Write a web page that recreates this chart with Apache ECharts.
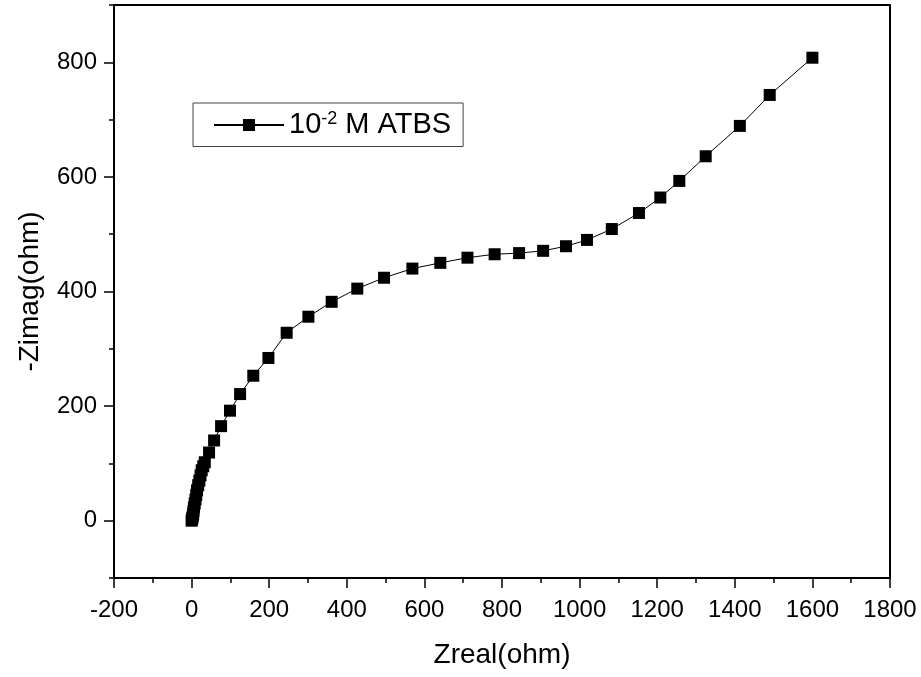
<!DOCTYPE html>
<html>
<head>
<meta charset="utf-8">
<script src="https://cdn.jsdelivr.net/npm/echarts@6/dist/echarts.min.js"></script>
<style>html,body{margin:0;padding:0;background:#fff}#c{width:921px;height:677px}</style>
</head>
<body>
<div id="c"></div>
<script>
var zreal = [0,1,2,3,4,5,6,8,10,12,14,17,20,23,26,30,34,45,58,76,99,125,159,198,245,301,361,427,496,569,641,711,781,844,906,965,1019,1083,1153,1208,1257,1325,1413,1490,1600];
var zimag = [0,2,5,8,12,17,23,30,37,45,53,62,70,79,88,95,102,119,140,165,192,221,253,284,328,356,382,405,424,440,450,459,465,467,471,479,490,509,537,564,593,636,689,743,808];
var seriesName = '10-2 M ATBS';
var xRange = {min: -200, max: 1800, interval: 200};
var yRange = {min: -100, max: 900, interval: 100};
var yMajorTicks = [0, 200, 400, 600, 800];
var yMinorTicks = [-100, 100, 300, 500, 700, 900];

var pts = zreal.map(function (x, i) { return [x, zimag[i]]; });
var font = 'Liberation Sans, Arial, sans-serif';
var chart = echarts.init(document.getElementById('c'));
chart.setOption({
  backgroundColor: '#fff',
  animation: false,
  grid: {left: 114, right: 31, top: 5, bottom: 99},
  legend: {
    show: true,
    left: 193, top: 103,
    padding: [7, 12, 7, 20],
    borderColor: '#444', borderWidth: 1,
    itemWidth: 70, itemHeight: 15, itemGap: 10,
    data: [seriesName],
    formatter: function () { return '10{sup|-2} M ATBS'; },
    textStyle: {
      fontFamily: font, fontSize: 29, color: '#000',
      rich: {sup: {fontFamily: font, fontSize: 18, color: '#000', verticalAlign: 'top', padding: [0, 0, 12, 0]}}
    }
  },
  xAxis: [{
    type: 'value', min: xRange.min, max: xRange.max, interval: xRange.interval,
    position: 'bottom',
    name: 'Zreal(ohm)', nameLocation: 'middle', nameGap: 63,
    nameTextStyle: {fontFamily: font, fontSize: 28, color: '#000'},
    axisLine: {show: true, onZero: false, lineStyle: {color: '#000', width: 2}},
    axisTick: {show: true, inside: false, length: 10, lineStyle: {color: '#000', width: 1.5}},
    minorTick: {show: true, splitNumber: 2, length: 5, lineStyle: {color: '#000', width: 1.5}},
    axisLabel: {fontFamily: font, fontSize: 24, color: '#000', margin: 20,
      formatter: function (v) { return String(v); }},
    splitLine: {show: false}
  }, {
    type: 'value', min: xRange.min, max: xRange.max, interval: xRange.interval,
    position: 'top',
    axisLine: {show: true, onZero: false, lineStyle: {color: '#000', width: 2}},
    axisTick: {show: false}, axisLabel: {show: false}, splitLine: {show: false}
  }],
  yAxis: [{
    type: 'value', min: yRange.min, max: yRange.max, interval: yRange.interval,
    position: 'left',
    name: '-Zimag(ohm)', nameLocation: 'middle', nameGap: 70,
    nameTextStyle: {fontFamily: font, fontSize: 28, color: '#000'},
    axisLine: {show: true, onZero: false, lineStyle: {color: '#000', width: 2}},
    axisTick: {show: true, inside: false, length: 10, customValues: yMajorTicks, lineStyle: {color: '#000', width: 1.5}},
    axisLabel: {fontFamily: font, fontSize: 24, color: '#000', margin: 17, customValues: yMajorTicks,
      formatter: function (v) { return String(v); }},
    splitLine: {show: false}
  }, {
    type: 'value', min: yRange.min, max: yRange.max, interval: yRange.interval,
    position: 'left', offset: 0,
    axisLine: {show: false, onZero: false},
    axisTick: {show: true, inside: false, length: 5, customValues: yMinorTicks, lineStyle: {color: '#000', width: 1.5}},
    axisLabel: {show: false}, splitLine: {show: false}
  }, {
    type: 'value', min: yRange.min, max: yRange.max, interval: yRange.interval,
    position: 'right',
    axisLine: {show: true, onZero: false, lineStyle: {color: '#000', width: 2}},
    axisTick: {show: false}, axisLabel: {show: false}, splitLine: {show: false}
  }],
  series: [{
    name: seriesName,
    type: 'line',
    data: pts,
    symbol: 'rect',
    symbolSize: 12,
    showAllSymbol: true,
    lineStyle: {color: '#000', width: 1},
    itemStyle: {color: '#000'},
    z: 3
  }]
});
</script>
</body>
</html>
